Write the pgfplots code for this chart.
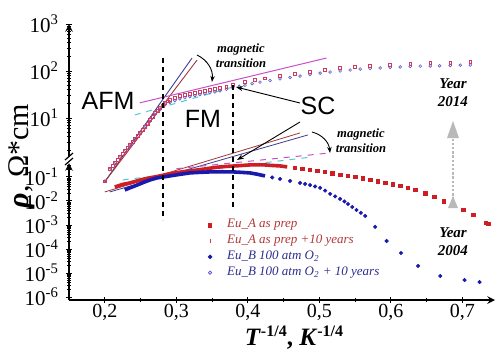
\documentclass[border=0pt]{standalone}
\usepackage{pgfplots}
\pgfplotsset{compat=1.18}
\usepackage{fontspec}
\setmainfont{Liberation Serif}
\newfontfamily\arial{Liberation Sans}
\usetikzlibrary{arrows.meta}
\definecolor{dred}{RGB}{205,30,35}
\definecolor{dblue}{RGB}{25,25,175}
\definecolor{legred}{RGB}{175,55,55}
\definecolor{legblue}{RGB}{45,45,140}
\definecolor{fitbrown}{RGB}{160,55,55}
\definecolor{fitblue}{RGB}{60,60,150}
\definecolor{fitmag}{RGB}{200,80,200}
\definecolor{fitcyan}{RGB}{80,200,210}
\definecolor{redten}{RGB}{205,60,95}
\definecolor{blueten}{RGB}{90,90,205}
\begin{document}
\begin{tikzpicture}
\useasboundingbox (0,0) rectangle (247.5pt,175pt);
\pgfplotsset{every axis/.append style={
  scale only axis, width=213pt, xmin=0.15, xmax=0.7455, clip=false,
  axis line style={black, line width=0.7pt, -},
  tick style={black, line width=0.45pt}, tick align=inside,
  major tick length=3pt, minor tick length=1.6pt,
  tick label style={font=\fontsize{10.5}{11}\selectfont},
}}
% ---------- lower axis (Year 2004) ----------
\begin{axis}[at={(34.5pt,25pt)}, anchor=south west, height=68.5pt,
  ymode=log, ymin=7.5e-7, ymax=0.38,
  axis x line=bottom, axis y line=left,
  xtick={0.2,0.3,0.4,0.5,0.6,0.7},
  xticklabels={{0,2},{0,3},{0,4},{0,5},{0,6},{0,7}},
  x tick label style={font=\fontsize{10}{10}\selectfont, inner sep=0.5pt},
  minor xtick={0.25,0.35,0.45,0.55,0.65},
  ytick={1e-6,1e-5,1e-4,1e-3,1e-2,1e-1},
  yticklabels={10\textsuperscript{-6},10\textsuperscript{-5},10\textsuperscript{-4},10\textsuperscript{-3},10\textsuperscript{-2},10\textsuperscript{-1}},
  minor ytick={2e-6,3e-6,4e-6,5e-6,6e-6,7e-6,8e-6,9e-6,
    2e-5,3e-5,4e-5,5e-5,6e-5,7e-5,8e-5,9e-5,
    2e-4,3e-4,4e-4,5e-4,6e-4,7e-4,8e-4,9e-4,
    2e-3,3e-3,4e-3,5e-3,6e-3,7e-3,8e-3,9e-3,
    2e-2,3e-2,4e-2,5e-2,6e-2,7e-2,8e-2,9e-2,0.2,0.3},
  legend style={at={(0.326,0.600)}, anchor=north west, draw=none, fill=none,
    font=\fontsize{6.5}{7}\selectfont\itshape, row sep=0.9pt, inner sep=0pt,
    nodes={inner sep=0.6pt}},
  legend cell align=left,
  /tikz/every odd column/.append style={column sep=7pt},
]
\addlegendimage{only marks, mark=square*, mark size=0.9pt, color=dred}
\addlegendentry{\textcolor{legred}{Eu\_A as prep}}
\addlegendimage{only marks, mark=|, mark size=1.2pt, color=redten}
\addlegendentry{\textcolor{legred}{Eu\_A as prep +10 years}}
\addlegendimage{only marks, mark=*, mark size=0.9pt, color=dblue}
\addlegendentry{\textcolor{legblue}{Eu\_B 100 atm O\textsubscript{2}}}
\addlegendimage{only marks, mark=o, mark size=0.8pt, color=blueten}
\addlegendentry{\textcolor{legblue}{Eu\_B 100 atm O\textsubscript{2} + 10 years}}
% fit lines
\addplot[forget plot, fitbrown, line width=0.4pt] coordinates {(0.200,0.0237) (0.473,6.8)};
\addplot[forget plot, fitblue, line width=0.4pt] coordinates {(0.207,0.0237) (0.484,5.6)};
\addplot[forget plot, fitcyan, line width=0.5pt, dashed] coordinates {(0.225,0.075) (0.490,0.68)};
\addplot[forget plot, fitmag, line width=0.5pt, dashed] coordinates {(0.300,0.22) (0.515,1.0)};
% Eu_A as prep (2004)
\addplot[forget plot, dred, line width=1.8pt] coordinates {
(0.214,0.038) (0.224,0.048) (0.235,0.056) (0.245,0.068) (0.256,0.083) (0.266,0.095)
(0.277,0.110) (0.287,0.128) (0.298,0.147) (0.308,0.162) (0.319,0.178) (0.330,0.196)
(0.340,0.215) (0.350,0.238) (0.361,0.261) (0.371,0.275) (0.382,0.287) (0.392,0.300)
(0.403,0.316) (0.413,0.318) (0.424,0.316) (0.434,0.300) (0.445,0.287) (0.455,0.262)};
\addplot[forget plot, only marks, mark=square*, mark size=0.9pt, dred] coordinates {
(0.466,0.237) (0.476,0.215) (0.487,0.196) (0.497,0.178) (0.508,0.162) (0.518,0.140)
(0.529,0.121) (0.540,0.110) (0.550,0.100) (0.561,0.085) (0.571,0.075) (0.582,0.064)
(0.592,0.056) (0.603,0.048) (0.613,0.042) (0.624,0.035) (0.634,0.0287) (0.648,0.021)
(0.661,0.0145) (0.674,0.0098) (0.687,0.0068) (0.701,0.0042) (0.715,0.0026)
(0.733,0.0012) (0.736,0.0011)};
% Eu_B 100 atm O2 (2004)
\addplot[forget plot, dblue, line width=1.8pt] coordinates {
(0.228,0.0287) (0.235,0.035) (0.242,0.042) (0.249,0.051) (0.256,0.062) (0.264,0.076)
(0.273,0.091) (0.282,0.100) (0.291,0.110) (0.305,0.128) (0.319,0.147) (0.333,0.155)
(0.347,0.162) (0.363,0.164) (0.379,0.162) (0.391,0.155) (0.403,0.147) (0.413,0.130)
(0.424,0.110)};
\addplot[forget plot, only marks, mark=*, mark size=0.8pt, dblue] coordinates {
(0.434,0.095) (0.445,0.0825) (0.459,0.068) (0.473,0.056) (0.480,0.051) (0.487,0.046)
(0.494,0.040) (0.501,0.035) (0.508,0.027) (0.515,0.0196) (0.522,0.0155) (0.529,0.0121)
(0.535,0.0095) (0.540,0.0075) (0.546,0.0056) (0.552,0.0042) (0.558,0.0032) (0.564,0.00237)
(0.578,0.00083) (0.594,0.000215) (0.614,0.000068) (0.638,0.0000196) (0.669,0.0000075)
(0.703,0.0000051) (0.724,0.0000042)};
\end{axis}
% ---------- upper axis (Year 2014) ----------
\begin{axis}[at={(34.5pt,96.5pt)}, anchor=south west, height=66.5pt,
  ymode=log, ymin=1.48, ymax=1000,
  axis x line=none, axis y line=left, xtick=\empty,
  ytick={10,100,1000},
  yticklabels={10\textsuperscript{1},10\textsuperscript{2},10\textsuperscript{3}},
  minor ytick={2,3,4,5,6,7,8,9,20,30,40,50,60,70,80,90,200,300,400,500,600,700,800,900},
]
\addplot[fitblue, line width=0.45pt] coordinates {(0.200,0.44) (0.322,189)};
\addplot[fitbrown, line width=0.45pt] coordinates {(0.200,0.44) (0.329,171)};
\addplot[fitmag, line width=0.5pt] coordinates {(0.249,21) (0.510,189)};
\addplot[fitcyan, line width=0.5pt, dashed] coordinates {(0.242,11.6) (0.389,50.3)};
% Eu_B + 10 years
\addplot[only marks, mark=o, mark size=0.7pt, blueten, line width=0.3pt] coordinates {
(0.200,0.45) (0.207,0.80) (0.214,1.05) (0.221,1.42) (0.228,1.9) (0.235,2.55) (0.242,3.4)
(0.249,4.6) (0.256,6.1) (0.263,8.5) (0.270,12) (0.277,15) (0.284,19) (0.291,21.5)
(0.298,23.5) (0.305,25.5) (0.312,27) (0.319,28.5) (0.326,30) (0.333,31.5) (0.340,33)
(0.347,34.5) (0.354,36) (0.361,38) (0.370,41) (0.379,44) (0.388,47) (0.396,50)
(0.406,54) (0.417,58) (0.431,63) (0.445,68) (0.459,73) (0.473,78) (0.487,84)
(0.501,90) (0.515,95) (0.529,100) (0.543,105) (0.557,110) (0.571,113) (0.585,116)
(0.599,119) (0.613,122) (0.627,125) (0.641,127) (0.655,128) (0.668,129) (0.683,131)
(0.697,133) (0.711,134)};
% Eu_A + 10 years
\addplot[only marks, mark=square, mark size=0.7pt, redten, line width=0.3pt] coordinates {
(0.200,0.45) (0.207,0.82) (0.211,0.95) (0.214,1.10) (0.218,1.28) (0.221,1.48) (0.225,1.72)
(0.228,1.99) (0.232,2.3) (0.235,2.67) (0.239,3.1) (0.242,3.57) (0.246,4.15)
(0.249,4.8) (0.253,5.6) (0.256,6.44) (0.260,7.6) (0.263,9.06) (0.267,10.8)
(0.270,12.8) (0.274,14.5) (0.277,16.3) (0.281,18.5) (0.284,20.9) (0.288,22.6)
(0.291,24.2) (0.298,26.7) (0.305,29.4) (0.312,31) (0.319,32.4) (0.326,34)
(0.333,35.7) (0.340,37.5) (0.347,39.4) (0.354,41.5) (0.361,43.5) (0.370,47)
(0.379,50.3) (0.396,58.3) (0.410,64) (0.424,70) (0.445,78.3) (0.466,87) (0.487,98)
(0.508,108) (0.529,116) (0.550,125) (0.571,131) (0.599,138) (0.627,145) (0.655,148)
(0.683,152) (0.711,155)};
\end{axis}
% ---------- annotations (pixel coordinates of the 495x350 reference) ----------
\begin{scope}[x=0.5pt,y=-0.5pt,shift={(0pt,175pt)}]
\draw[line width=0.6pt] (65,160)--(73,153) (65,165)--(73,158);
\draw[line width=0.6pt, dash pattern=on 2.5pt off 2pt] (163,58) -- (163,220);
\draw[line width=0.6pt, dash pattern=on 2.5pt off 2pt] (233,85) -- (233,210);
\node[font=\arial\fontsize{12.5}{13}\selectfont] at (108,101) {AFM};
\node[font=\arial\fontsize{12.5}{13}\selectfont] at (203,119) {FM};
\node[font=\arial\fontsize{12.5}{13}\selectfont] at (318,106) {SC};
\node[font=\fontsize{6.3}{7.5}\selectfont\bfseries\itshape, align=center] at (241,56) {magnetic\\transition};
\node[font=\fontsize{6.3}{7.5}\selectfont\bfseries\itshape, align=center] at (361,141) {magnetic\\transition};
\node[font=\fontsize{7.5}{9}\selectfont\bfseries\itshape, align=center] at (453,93) {Year\\2014};
\node[font=\fontsize{7.5}{9}\selectfont\bfseries\itshape, align=center] at (453,242) {Year\\2004};
\draw[line width=0.45pt, -{Stealth[length=3pt,width=2.2pt]}] (197,55) to[bend left=35] (212,82);
\draw[line width=0.45pt, -{Stealth[length=3pt,width=2.2pt]}] (312,132) to[bend left=35] (330,153);
\draw[line width=0.45pt, -{Stealth[length=3.5pt,width=2.5pt]}] (300,103) -- (236,87);
\draw[line width=0.45pt, -{Stealth[length=3.5pt,width=2.5pt]}] (300,122) -- (237,160);
\draw[gray!55, line width=1.3pt, dash pattern=on 1.2pt off 0.9pt] (453,204) -- (453,134);
\fill[gray!55] (447,138) -- (453,121) -- (459,138) -- cycle;
\fill[gray!55] (448,208) -- (453,196) -- (458,208) -- cycle;
\node[rotate=90, font=\fontsize{15}{16}\selectfont] at (22,156) {\textbf{\textit{ρ}}, Ω*cm};
\node[anchor=base, font=\fontsize{12.5}{13}\selectfont\bfseries, inner sep=0pt] at (294,345) {\textit{T}\raisebox{0.33em}{\fontsize{8}{8}\selectfont -1/4}, \textit{K}\raisebox{0.33em}{\fontsize{8}{8}\selectfont -1/4}};
\end{scope}
\end{tikzpicture}
\end{document}
